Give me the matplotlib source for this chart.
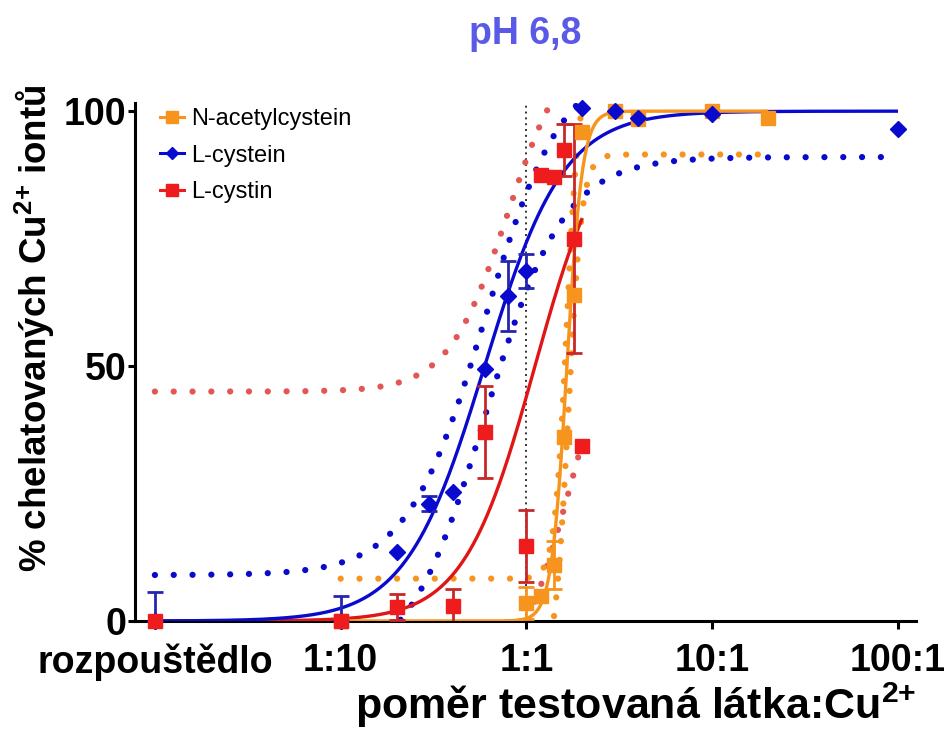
import numpy as np
import matplotlib
matplotlib.use("Agg")
import matplotlib.pyplot as plt
from matplotlib.lines import Line2D
from matplotlib.ticker import NullLocator

plt.rcParams['font.family'] = ['Liberation Sans', 'DejaVu Sans']
plt.rcParams['mathtext.fontset'] = 'custom'
plt.rcParams['mathtext.rm'] = 'Liberation Sans:bold'
plt.rcParams['mathtext.it'] = 'Liberation Sans:bold'
plt.rcParams['mathtext.bf'] = 'Liberation Sans:bold'

SOLVENT = 0.01  # poloha "rozpouštědlo" na log ose

# namerene body: pomer, % chelatace, chyba
nac_x = [0.1, 1, 1.2, 1.4, 1.6, 1.8, 2, 3, 4, 10, 20]
nac_y = [0, 3.5, 5, 11, 36, 64, 96, 100, 98.5, 100, 98.6]
nac_err = [0, 3.2, 0, 4.7, 0, 0, 0, 0, 0, 0, 0]

cys_x = [SOLVENT, 0.1, 0.2, 0.3, 0.4, 0.6, 0.8, 1, 2, 3, 4, 10, 100]
cys_y = [0, 0, 13.5, 23, 25.3, 49.4, 63.7, 68.6, 100.6, 100, 98.6, 99.4, 96.5]
cys_err = [5.7, 4.9, 0, 1.5, 0, 0, 6.9, 3.3, 0, 0, 0, 0, 0]

cyn_x = [SOLVENT, 0.1, 0.2, 0.4, 0.6, 1, 1.2, 1.4, 1.6, 1.8, 2]
cyn_y = [0, 0, 2.7, 2.9, 37, 14.7, 87.5, 87, 92.4, 75, 34.3]
cyn_err = [0, 0, 2.6, 3.4, 9, 7, 0, 0, 5.1, 22.5, 0]

# parametry fitu (bottom, top, logEC50, hill) a pasy spolehlivosti
nac_fit = [0, 100, 0.218, 10.5]
nac_band_hi = [8.3, 108, 0.217, 13.3]
nac_band_lo = [-10, 91.5, 0.225, 12]
nac_range = [0.1, 20]

cys_fit = [0, 100, -0.225, 2.05]
cys_band_hi = [9, 110, -0.222, 2.07]
cys_band_lo = [-10, 91, -0.22, 2.07]
cys_range = [SOLVENT, 100]

cyn_fit = [0, 100, 0.046, 2.26]
cyn_band_hi = [45, 115, -0.1, 2.7]
cyn_band_lo = [-30, 100, 0.30, 1.8]
cyn_range = [SOLVENT, 2]

tick_pos = [SOLVENT, 0.1, 1, 10, 100]
tick_lab = ['rozpouštědlo', '1:10', '1:1', '10:1', '100:1']

ORANGE = '#F7941E'
BLUE = '#0A0ACF'
RED = '#EE1C1C'
RED_BAND = '#E25656'
YMAX = 101.6


def curve(p, xr):
    x = np.logspace(np.log10(xr[0]), np.log10(xr[1]), 600)
    b, t, e, h = p
    y = b + (t - b) / (1 + 10 ** ((e - np.log10(x)) * h))
    return x, y


fig = plt.figure(figsize=(9.46, 7.36), dpi=100)
ax = fig.add_axes([135 / 946, 115 / 736, 781 / 946, 518 / 736])
ax.set_xscale('log')

dots = (0, (0.01, 3.0))
for band, xr, col in [(cyn_band_hi, cyn_range, RED_BAND), (cyn_band_lo, cyn_range, RED_BAND),
                      (cys_band_hi, cys_range, BLUE), (cys_band_lo, cys_range, BLUE),
                      (nac_band_hi, nac_range, ORANGE), (nac_band_lo, nac_range, ORANGE)]:
    x, y = curve(band, xr)
    y = np.where((y < 0) | (y > YMAX), np.nan, y)
    ax.plot(x, y, color=col, lw=4.5, linestyle=dots, dash_capstyle='round', zorder=2)

ax.plot([1, 1], [0, YMAX], color='#333333', lw=1.4, linestyle=(0, (1, 2)), zorder=1)

for p, xr, col in [(cyn_fit, cyn_range, '#E01515'), (cys_fit, cys_range, BLUE), (nac_fit, nac_range, ORANGE)]:
    x, y = curve(p, xr)
    ax.plot(x, y, color=col, lw=2.4, zorder=3, solid_capstyle='butt')

for xs, ys, es, col in [(nac_x, nac_y, nac_err, ORANGE), (cys_x, cys_y, cys_err, '#2525B0'),
                        (cyn_x, cyn_y, cyn_err, '#C82828')]:
    idx = [i for i, e in enumerate(es) if e > 0]
    ax.errorbar([xs[i] for i in idx], [ys[i] for i in idx], yerr=[es[i] for i in idx],
                fmt='none', ecolor=col, elinewidth=2, capsize=6, capthick=2, zorder=4)

ax.plot(nac_x, nac_y, ls='none', marker='s', ms=10.5, color=ORANGE, clip_on=False, zorder=5)
ax.plot(cys_x, cys_y, ls='none', marker='D', ms=8.5, color=BLUE, clip_on=False, zorder=6)
ax.plot(cyn_x, cyn_y, ls='none', marker='s', ms=10.5, color=RED, clip_on=False, zorder=7)

ax.set_xlim(10 ** -2.107, 10 ** 2.097)
ax.set_ylim(0, YMAX)
ax.set_xticks(tick_pos)
ax.set_xticklabels(tick_lab)
ax.xaxis.set_minor_locator(NullLocator())
ax.set_yticks([0, 50, 100])
for s in ['top', 'right']:
    ax.spines[s].set_visible(False)
for s in ['left', 'bottom']:
    ax.spines[s].set_linewidth(2.2)
ax.tick_params(width=2.2, length=6, labelsize=27)
ax.tick_params(axis='x', pad=10)
ax.tick_params(axis='y', length=5, pad=1)
for lab in ax.get_xticklabels() + ax.get_yticklabels():
    lab.set_fontweight('bold')

ax.set_xlabel('poměr testovaná látka:Cu$^{2{+}}$', fontsize=31, fontweight='bold', loc='right', labelpad=0)
ax.set_ylabel('% chelatovaných Cu$^{2{+}}$ iontů', fontsize=26.5, fontweight='bold')
ax.yaxis.set_label_coords(-0.10, 0.566)

fig.text(525 / 946, 1 - 34 / 736, 'pH 6,8', fontsize=27, fontweight='bold', color='#5A5AE6',
         ha='center', va='center')

handles = [Line2D([], [], color=ORANGE, marker='s', ms=8, lw=2.2),
           Line2D([], [], color=BLUE, marker='D', ms=6.5, lw=2.2),
           Line2D([], [], color=RED, marker='s', ms=8, lw=2.2)]
ax.legend(handles, ['N-acetylcystein', 'L-cystein', 'L-cystin'], loc='upper left',
          bbox_to_anchor=(160 / 946, 1 - 108 / 736), bbox_transform=fig.transFigure,
          frameon=False, fontsize=17, handlelength=1.0, handletextpad=0.3,
          labelspacing=0.62, borderpad=0, borderaxespad=0)

fig.savefig('out.png', dpi=100)
